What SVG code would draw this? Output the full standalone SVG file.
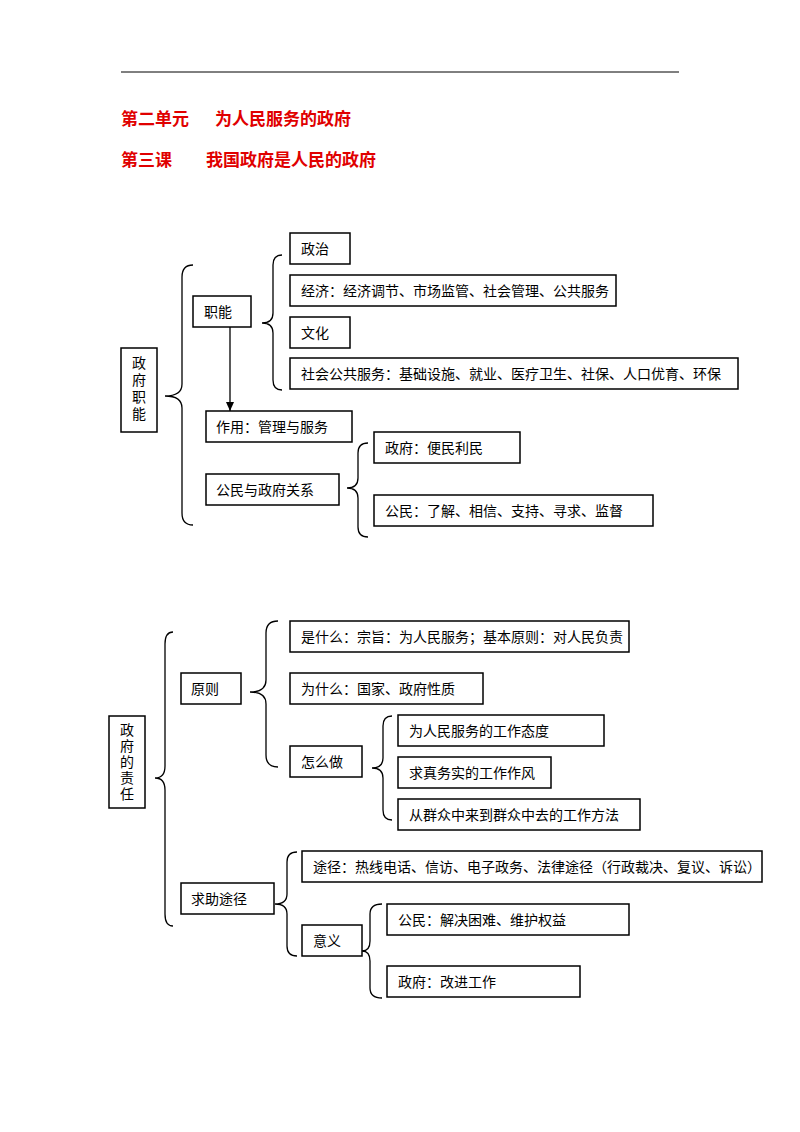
<svg xmlns="http://www.w3.org/2000/svg" width="800" height="1132" viewBox="0 0 800 1132">
<style>
.b{fill:#fff;stroke:#000;stroke-width:1.5}
.t{font-family:"Liberation Serif","Noto Sans CJK SC",serif;font-size:14px;fill:#000}
.h{font-family:"Noto Sans CJK SC",sans-serif;font-size:17px;font-weight:bold;fill:#e00000}
.br{fill:none;stroke:#000;stroke-width:1.3}
</style>
<defs><marker id="ar" markerWidth="10" markerHeight="10" refX="9" refY="5" orient="auto" markerUnits="userSpaceOnUse"><path d="M0,1 L9,5 L0,9 z" fill="#000"/></marker></defs>
<rect width="800" height="1132" fill="#fff"/>
<line x1="121" y1="72" x2="679" y2="72" stroke="#000" stroke-width="1"/>
<text class="h" x="121" y="125">第二单元</text><text class="h" x="215" y="125">为人民服务的政府</text>
<text class="h" x="121" y="166">第三课</text><text class="h" x="206" y="166">我国政府是人民的政府</text>
<g id="connectors">
<path class="br" d="M193,265 Q182,265 182,277 L182,384 Q182,396 165,396 Q182,396 182,408 L182,513 Q182,525 193,525"/>
<path class="br" d="M282,255 Q273,255 273,265 L273,313 Q273,323 262,323 Q273,323 273,333 L273,380 Q273,390 282,390"/>
<path class="br" d="M368,443 Q358,443 358,453 L358,478 Q358,488 347,488 Q358,488 358,498 L358,527 Q358,537 368,537"/>
<line x1="230" y1="327" x2="230" y2="411" stroke="#000" stroke-width="1.3" marker-end="url(#ar)"/>
<path class="br" d="M173,632 Q165,632 165,644 L165,766 Q165,778 155,778 Q165,778 165,790 L165,914 Q165,926 173,926"/>
<path class="br" d="M278,621 Q266,621 266,633 L266,680 Q266,692 250,692 Q266,692 266,704 L266,755 Q266,767 278,767"/>
<path class="br" d="M392,716 Q383,716 383,726 L383,758 Q383,768 372,768 Q383,768 383,778 L383,810 Q383,820 392,820"/>
<path class="br" d="M297,852 Q287,852 287,862 L287,894 Q287,904 275,904 Q287,904 287,914 L287,946 Q287,956 297,956"/>
<path class="br" d="M382,904 Q370,904 370,914 L370,941 Q370,951 362,951 Q370,951 370,961 L370,988 Q370,998 382,998"/>
</g>
<g id="n1"><rect class="b" x="121" y="348" width="36" height="84"/><text class="t" x="139" y="368" text-anchor="middle"><tspan x="139">政</tspan><tspan x="139" dy="17">府</tspan><tspan x="139" dy="17">职</tspan><tspan x="139" dy="17">能</tspan></text></g>
<g id="n2"><rect class="b" x="193" y="296" width="58" height="31"/><text class="t" x="204" y="317">职能</text></g>
<g id="n3"><rect class="b" x="290" y="233" width="60" height="31"/><text class="t" x="301" y="254">政治</text></g>
<g id="n4"><rect class="b" x="290" y="275" width="326" height="31"/><text class="t" x="301" y="296">经济：经济调节、市场监管、社会管理、公共服务</text></g>
<g id="n5"><rect class="b" x="290" y="317" width="60" height="31"/><text class="t" x="301" y="338">文化</text></g>
<g id="n6"><rect class="b" x="290" y="358" width="448" height="31"/><text class="t" x="301" y="379">社会公共服务：基础设施、就业、医疗卫生、社保、人口优育、环保</text></g>
<g id="n7"><rect class="b" x="206" y="411" width="146" height="31"/><text class="t" x="216" y="432">作用：管理与服务</text></g>
<g id="n8"><rect class="b" x="206" y="474" width="133" height="31"/><text class="t" x="216" y="495">公民与政府关系</text></g>
<g id="n9"><rect class="b" x="374" y="432" width="146" height="31"/><text class="t" x="385" y="453">政府：便民利民</text></g>
<g id="n10"><rect class="b" x="374" y="495" width="279" height="31"/><text class="t" x="385" y="516">公民：了解、相信、支持、寻求、监督</text></g>
<g id="m1"><rect class="b" x="109" y="716" width="36" height="92"/><text class="t" x="127" y="735" text-anchor="middle"><tspan x="127">政</tspan><tspan x="127" dy="16">府</tspan><tspan x="127" dy="16">的</tspan><tspan x="127" dy="16">责</tspan><tspan x="127" dy="16">任</tspan></text></g>
<g id="m2"><rect class="b" x="181" y="673" width="60" height="31"/><text class="t" x="191" y="694">原则</text></g>
<g id="m3"><rect class="b" x="290" y="621" width="339" height="31"/><text class="t" x="301" y="642">是什么：宗旨：为人民服务；基本原则：对人民负责</text></g>
<g id="m4"><rect class="b" x="290" y="673" width="193" height="31"/><text class="t" x="301" y="694">为什么：国家、政府性质</text></g>
<g id="m5"><rect class="b" x="290" y="746" width="72" height="31"/><text class="t" x="301" y="767">怎么做</text></g>
<g id="m6"><rect class="b" x="398" y="715" width="206" height="31"/><text class="t" x="409" y="736">为人民服务的工作态度</text></g>
<g id="m7"><rect class="b" x="398" y="757" width="153" height="31"/><text class="t" x="409" y="778">求真务实的工作作风</text></g>
<g id="m8"><rect class="b" x="398" y="799" width="242" height="31"/><text class="t" x="409" y="820">从群众中来到群众中去的工作方法</text></g>
<g id="m9"><rect class="b" x="181" y="883" width="93" height="31"/><text class="t" x="191" y="904">求助途径</text></g>
<g id="m10"><rect class="b" x="302" y="851" width="460" height="31"/><text class="t" x="313" y="872">途径：热线电话、信访、电子政务、法律途径（行政裁决、复议、诉讼）</text></g>
<g id="m11"><rect class="b" x="302" y="925" width="60" height="31"/><text class="t" x="313" y="946">意义</text></g>
<g id="m12"><rect class="b" x="387" y="904" width="242" height="31"/><text class="t" x="398" y="925">公民：解决困难、维护权益</text></g>
<g id="m13"><rect class="b" x="387" y="966" width="193" height="31"/><text class="t" x="398" y="987">政府：改进工作</text></g>
</svg>
